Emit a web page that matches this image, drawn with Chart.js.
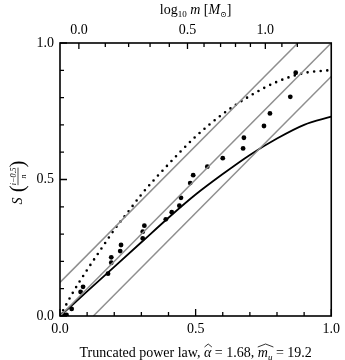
<!DOCTYPE html>
<html>
<head>
<meta charset="utf-8">
<script src="https://cdn.jsdelivr.net/npm/chart.js@4"></script>
<style>
  html, body { margin: 0; padding: 0; background: #fff; }
</style>
</head>
<body>
<canvas id="ksChart" width="345" height="360"></canvas>
<script>
// ---- data ----
// empirical points S((i-0.5)/n)
const EMP_X = [0.012, 0.024, 0.043, 0.076, 0.085, 0.177, 0.189, 0.189, 0.222, 0.225, 0.305, 0.305, 0.311,
               0.39, 0.412, 0.44, 0.446, 0.48, 0.491, 0.543, 0.60, 0.675, 0.678, 0.752, 0.774, 0.849, 0.869];
const EMP_Y = [0.006, 0.004, 0.026, 0.088, 0.107, 0.155, 0.195, 0.215, 0.238, 0.26, 0.284, 0.309, 0.331,
               0.354, 0.38, 0.404, 0.433, 0.487, 0.516, 0.547, 0.578, 0.614, 0.653, 0.696, 0.742, 0.803, 0.891];

// truncated power law (solid)
const FIT_X = [0, 0.1, 0.2, 0.3, 0.4, 0.5, 0.6, 0.7, 0.8, 0.9, 1.0];
const FIT_Y = [0, 0.09, 0.18, 0.27, 0.36, 0.445, 0.52, 0.59, 0.65, 0.70, 0.73];

// dotted curve
const ALT_X = [0, 0.05, 0.1, 0.15, 0.2, 0.25, 0.3, 0.4, 0.5, 0.6, 0.7, 0.8, 0.9, 1.0];
const ALT_Y = [0, 0.09, 0.169, 0.243, 0.316, 0.38, 0.445, 0.556, 0.657, 0.74, 0.806, 0.858, 0.89, 0.901];

// diagonal and KS band lines
const DIAG_X = [0, 1];
const DIAG_Y = [0, 1];
const BAND_UP_X = [0, 0.877];
const BAND_UP_Y = [0.123, 1];
const BAND_LO_X = [0.123, 1];
const BAND_LO_Y = [0, 0.877];

// ticks
const MAJOR_TICKS = [0, 0.5, 1];
const MAJOR_LABELS = ["0.0", "0.5", "1.0"];
const MINOR_TICKS = [0.1, 0.2, 0.3, 0.4, 0.6, 0.7, 0.8, 0.9];
// top axis: log10 m, placed on the S scale
const TOP_MAJOR_POS = [0.0696, 0.470, 0.757];
const TOP_LABELS = ["0.0", "0.5", "1.0"];
const TOP_MINOR_POS = [0.167, 0.253, 0.332, 0.403, 0.531, 0.592, 0.647, 0.702, 0.818, 0.875];

const SERIF = '"Liberation Serif", "DejaVu Serif", serif';

function pts(xs, ys) {
  return xs.map((x, i) => ({ x: x, y: ys[i] }));
}

function grayLine(xs, ys) {
  return {
    type: "line",
    data: pts(xs, ys),
    borderColor: "#8f8f8f",
    borderWidth: 1.5,
    pointRadius: 0,
    fill: false
  };
}

// ==============================
// FRAME + INWARD TICKS
// ==============================
const frameTicks = {
  id: "frameTicks",
  afterDraw(chart) {
    const ctx = chart.ctx;
    const a = chart.chartArea;
    const sx = chart.scales.x, sy = chart.scales.y, st = chart.scales.x2;
    ctx.save();
    ctx.strokeStyle = "#000";
    ctx.lineWidth = 1.3;
    ctx.beginPath();
    MAJOR_TICKS.concat(MINOR_TICKS).forEach(v => {
      const len = MAJOR_TICKS.includes(v) ? 7 : 4;
      const px = sx.getPixelForValue(v);
      ctx.moveTo(px, a.bottom);
      ctx.lineTo(px, a.bottom - len);
      const py = sy.getPixelForValue(v);
      ctx.moveTo(a.left, py);
      ctx.lineTo(a.left + len, py);
    });
    TOP_MAJOR_POS.concat(TOP_MINOR_POS).forEach(v => {
      const len = TOP_MAJOR_POS.includes(v) ? 6 : 4;
      const px = st.getPixelForValue(v);
      ctx.moveTo(px, a.top);
      ctx.lineTo(px, a.top + len);
    });
    ctx.stroke();
    ctx.lineWidth = 1.6;
    ctx.strokeRect(a.left, a.top, a.right - a.left, a.bottom - a.top);
    ctx.restore();
  }
};

// ==============================
// AXIS TITLES
// ==============================
function runWidth(ctx, runs) {
  let w = 0;
  runs.forEach(r => { ctx.font = r.font; r.w = ctx.measureText(r.text).width; w += r.w; });
  return w;
}

function drawRuns(ctx, runs, cx, base) {
  const total = runWidth(ctx, runs);
  let x = cx - total / 2;
  runs.forEach(r => {
    ctx.font = r.font;
    ctx.fillText(r.text, x, base + (r.dy || 0));
    r.x = x;
    x += r.w;
  });
  return runs;
}

function hat(ctx, x0, x1, y, h) {
  ctx.beginPath();
  ctx.moveTo(x0, y);
  ctx.lineTo((x0 + x1) / 2, y - h);
  ctx.lineTo(x1, y);
  ctx.stroke();
}

const axisTitles = {
  id: "axisTitles",
  afterDraw(chart) {
    const ctx = chart.ctx;
    const a = chart.chartArea;
    const cx = (a.left + a.right) / 2;
    ctx.save();
    ctx.fillStyle = "#000";
    ctx.strokeStyle = "#000";
    ctx.textBaseline = "alphabetic";
    ctx.textAlign = "left";

    // top title: log10 m [M_sun]
    drawRuns(ctx, [
      { text: "log", font: "14px " + SERIF },
      { text: "10", font: "9px " + SERIF, dy: 3 },
      { text: " m", font: "italic 14px " + SERIF },
      { text: " [", font: "14px " + SERIF },
      { text: "M", font: "italic 14px " + SERIF },
      { text: "\u2299", font: "8px " + SERIF, dy: 3 },
      { text: "]", font: "14px " + SERIF }
    ], cx, 14);

    // bottom title
    const runs = drawRuns(ctx, [
      { text: "Truncated power law, ", font: "14px " + SERIF },
      { text: "\u03b1", font: "italic 14px " + SERIF },
      { text: " = 1.68, ", font: "14px " + SERIF },
      { text: "m", font: "italic 14px " + SERIF },
      { text: "u", font: "italic 9px " + SERIF, dy: 3 },
      { text: " = 19.2", font: "14px " + SERIF }
    ], cx, 357);
    ctx.lineWidth = 0.8;
    hat(ctx, runs[1].x + 0.5, runs[1].x + runs[1].w + 0.5, 347, 3);
    hat(ctx, runs[3].x, runs[4].x + runs[4].w + 1, 347, 3);

    // left title: S((i-0.5)/n), rotated
    ctx.translate(18, (a.top + a.bottom) / 2 + 3);
    ctx.rotate(-Math.PI / 2);
    const sRuns = [
      { text: "S", font: "italic 14px " + SERIF },
      { text: " (", font: "21px " + SERIF },
      { text: "i\u22120.5", font: "italic 8px " + SERIF },
      { text: ")", font: "21px " + SERIF }
    ];
    const total = runWidth(ctx, sRuns);
    let x = -total / 2;
    ctx.font = sRuns[0].font; ctx.fillText("S", x, 4); x += sRuns[0].w;
    ctx.font = sRuns[1].font; ctx.fillText(" (", x, 6); x += sRuns[1].w;
    const fx = x;
    ctx.font = sRuns[2].font; ctx.fillText("i\u22120.5", fx, -2);
    ctx.lineWidth = 0.7;
    ctx.beginPath(); ctx.moveTo(fx, 0); ctx.lineTo(fx + sRuns[2].w, 0); ctx.stroke();
    ctx.font = "italic 8px " + SERIF;
    ctx.textAlign = "center";
    ctx.fillText("n", fx + sRuns[2].w / 2, 8);
    ctx.textAlign = "left";
    x += sRuns[2].w;
    ctx.font = sRuns[3].font; ctx.fillText(")", x, 6);
    ctx.restore();
  }
};

const tickFont = { family: SERIF, size: 14 };

new Chart(document.getElementById("ksChart"), {
  data: {
    datasets: [
      grayLine(BAND_UP_X, BAND_UP_Y),
      grayLine(DIAG_X, DIAG_Y),
      grayLine(BAND_LO_X, BAND_LO_Y),
      {
        type: "scatter",
        data: pts(EMP_X, EMP_Y),
        backgroundColor: "#000",
        borderWidth: 0,
        pointRadius: 2.4
      },
      {
        type: "line",
        data: pts(FIT_X, FIT_Y),
        borderColor: "#000",
        borderWidth: 1.8,
        pointRadius: 0,
        cubicInterpolationMode: "monotone",
        fill: false
      },
      {
        type: "line",
        data: pts(ALT_X, ALT_Y),
        borderColor: "#000",
        borderWidth: 2.6,
        borderDash: [0, 6.6],
        borderCapStyle: "round",
        pointRadius: 0,
        cubicInterpolationMode: "monotone",
        fill: false
      }
    ]
  },
  options: {
    responsive: false,
    animation: false,
    devicePixelRatio: 1,
    layout: { padding: { left: 0, right: 12, top: 0, bottom: 0 } },
    plugins: {
      legend: { display: false },
      tooltip: { enabled: false }
    },
    scales: {
      x: {
        type: "linear",
        position: "bottom",
        min: 0, max: 1,
        afterBuildTicks: s => { s.ticks = MAJOR_TICKS.map(v => ({ value: v })); },
        afterFit: s => { s.height = 44; },
        ticks: {
          autoSkip: false, maxRotation: 0, padding: 5, color: "#000", font: tickFont,
          callback: (v, i) => MAJOR_LABELS[i]
        },
        grid: { display: false, drawTicks: false },
        border: { display: false }
      },
      x2: {
        type: "linear",
        position: "top",
        min: 0, max: 1,
        afterBuildTicks: s => { s.ticks = TOP_MAJOR_POS.map(v => ({ value: v })); },
        afterFit: s => { s.height = 43; },
        ticks: {
          autoSkip: false, maxRotation: 0, padding: 4, color: "#000", font: tickFont,
          callback: (v, i) => TOP_LABELS[i]
        },
        grid: { display: false, drawTicks: false },
        border: { display: false }
      },
      y: {
        type: "linear",
        position: "left",
        min: 0, max: 1,
        afterBuildTicks: s => { s.ticks = MAJOR_TICKS.map(v => ({ value: v })); },
        afterFit: s => { s.width = 60; },
        ticks: {
          autoSkip: false, padding: 6, color: "#000", font: tickFont,
          callback: (v, i) => MAJOR_LABELS[i]
        },
        grid: { display: false, drawTicks: false },
        border: { display: false }
      }
    }
  },
  plugins: [frameTicks, axisTitles]
});
</script>
</body>
</html>
